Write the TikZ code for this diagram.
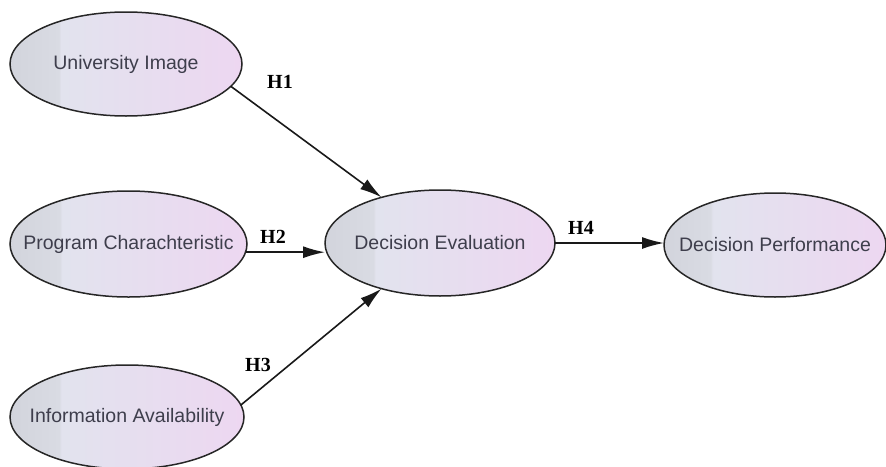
\documentclass[tikz,border=0pt]{standalone}
\usepackage{fontspec}
\setmainfont{Liberation Serif}
\setsansfont{Liberation Sans}
\usetikzlibrary{shapes.geometric,arrows.meta}
\definecolor{cA}{HTML}{D2D4DC}
\definecolor{cB}{HTML}{D9DBE3}
\definecolor{cC}{HTML}{E2E3EE}
\definecolor{cD}{HTML}{EDD7F1}
\definecolor{txt}{HTML}{3E3E4C}
\pgfdeclarehorizontalshading{ellfill}{100bp}{color(0bp)=(cA); color(25bp)=(cA); color(35.5bp)=(cB); color(36bp)=(cC); color(75bp)=(cD); color(100bp)=(cD)}
\tikzset{
  construct/.style={ellipse, draw=black!85, line width=1.5pt, shading=ellfill, inner sep=0pt, outer sep=0pt},
  ctext/.style={font=\sffamily\fontsize{19.5}{21}\selectfont, text=txt, inner sep=0pt},
  arr/.style={-{Latex[length=22pt,width=12pt]}, line width=1.6pt, black!90},
  hyp/.style={font=\bfseries\fontsize{20}{22}\selectfont, text=black}
}
\begin{document}
\begin{tikzpicture}[x=1pt,y=-1pt]
\useasboundingbox (0,0) rectangle (886,466);
\node[construct, minimum width=232pt, minimum height=104pt, label={[ctext]center:University Image}] (ui) at (126,64) {};
\node[construct, minimum width=237pt, minimum height=106pt, label={[ctext]center:Program Charachteristic}] (pc) at (128.5,244) {};
\node[construct, minimum width=234pt, minimum height=104pt, label={[ctext]center:Information Availability}] (ia) at (127,417) {};
\node[construct, minimum width=230pt, minimum height=106pt, label={[ctext]center:Decision Evaluation}] (de) at (440,243) {};
\node[construct, minimum width=222pt, minimum height=104pt, label={[ctext]center:Decision Performance}] (dp) at (775,245) {};
\draw[arr] (ui.-12) -- (de.142);
\draw[arr] (pc.-4) -- (de.west |- pc.-4);
\draw[arr] (ia.6) -- (de.-142);
\draw[arr] (de.east) -- (dp.west |- de.east);
\node[hyp] (h1) at (280,82) {H1};
\node[hyp] (h2) at (273,237) {H2};
\node[hyp] (h3) at (258,365) {H3};
\node[hyp] (h4) at (581,228) {H4};
\end{tikzpicture}
\end{document}
